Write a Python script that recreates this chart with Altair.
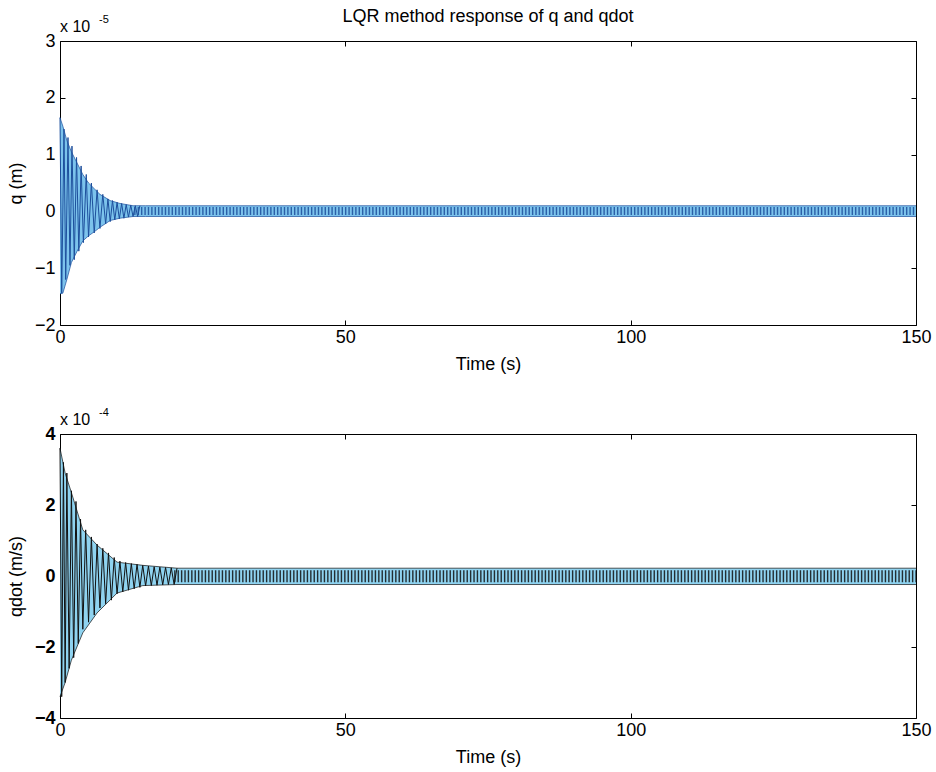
import altair as alt
import pandas as pd

# ---- q(t): displacement response, units of 1e-5 m ----
# envelope of the oscillation (upper / lower bound)
q_env_t = [0.0, 0.5, 1.2, 2.0, 3.0, 4.0, 5.0, 6.0, 7.0, 8.8, 10.5, 12.8, 15.0, 150.0]
q_upper = [1.65, 1.5, 1.25, 1.05, 0.85, 0.65, 0.5, 0.4, 0.3, 0.19, 0.14, 0.1, 0.1, 0.1]
q_lower = [-1.45, -1.44, -1.2, -0.9, -0.7, -0.52, -0.43, -0.36, -0.28, -0.16, -0.12, -0.09, -0.09, -0.09]
# successive peaks of the decaying transient
q_peak_t = [0.0, 0.3, 0.7, 1.0, 1.4, 1.75, 2.1, 2.5, 2.9, 3.3, 3.7, 4.1, 4.6, 5.0, 5.5,
            6.0, 6.5, 7.0, 7.5, 8.0, 8.4, 8.8, 9.2, 9.6, 10.0, 10.4, 10.8, 11.2, 11.6,
            12.0, 12.4, 12.8, 13.2, 13.6, 14.0]
q_peak_v = [1.65, -1.44, 1.45, -1.2, 1.3, -0.95, 1.15, -0.85, 0.95, -0.7, 0.8, -0.55, 0.65, -0.45, 0.5,
            -0.38, 0.38, -0.3, 0.3, -0.22, 0.22, -0.18, 0.19, -0.15, 0.16, -0.13, 0.14, -0.12, 0.12,
            -0.1, 0.11, -0.09, 0.1, -0.09, 0.1]
# steady residual oscillation band: start time, centre
q_steady = [13.0, 0.005]

# ---- qdot(t): velocity response, units of 1e-4 m/s ----
qd_env_t = [0.0, 0.9, 2.0, 4.0, 6.5, 10.0, 14.5, 20.5, 150.0]
qd_upper = [3.6, 2.9, 2.35, 1.3, 0.87, 0.39, 0.3, 0.22, 0.22]
qd_lower = [-3.4, -3.0, -2.37, -1.6, -1.04, -0.48, -0.27, -0.24, -0.24]
qd_peak_t = [0.0, 0.3, 0.6, 0.9, 1.2, 1.6, 2.0, 2.4, 2.8, 3.2, 3.6, 4.0, 4.5, 5.0, 5.5, 6.0, 6.5,
             7.0, 7.5, 8.0, 8.5, 9.0, 9.5, 10.0, 10.5, 11.0, 11.5, 12.0, 12.5, 13.0, 13.5,
             14.0, 14.5, 15.0, 15.5, 16.0, 16.5, 17.0, 17.5, 18.0, 18.5, 19.0, 19.5, 20.0, 20.5]
qd_peak_v = [3.6, -3.4, 3.2, -3.0, 2.9, -2.6, 2.4, -2.3, 2.1, -1.9, 1.6, -1.5, 1.3, -1.3, 1.1, -1.1, 0.9,
             -0.9, 0.78, -0.78, 0.65, -0.68, 0.52, -0.5, 0.42, -0.45, 0.38, -0.4, 0.35, -0.36, 0.33,
             -0.32, 0.3, -0.28, 0.28, -0.27, 0.26, -0.26, 0.25, -0.25, 0.24, -0.24, 0.23, -0.24, 0.22]
qd_steady = [20.0, -0.01]

x_ticks = [0, 50, 100, 150]
q_ticks = [-2, -1, 0, 1, 2, 3]
qd_ticks = [-4, -2, 0, 2, 4]

FONT = "Liberation Sans"
W, H = 856, 284
TICK = 5
FS = 18


def panel(env_t, up, lo, pk_t, pk_v, steady, ydom, yticks, ytitle, exponent,
          fill, line_color, stripe_px, label_weight="normal", title=None):
    env = pd.DataFrame({"t": env_t, "up": up, "lo": lo})
    pk = pd.DataFrame({"t": pk_t, "v": pk_v})
    st = pd.DataFrame({"t0": [steady[0]], "t1": [env_t[-1]], "c": [steady[1]]})
    xs = alt.Scale(domain=[0, 150], nice=False, zero=False)
    ys = alt.Scale(domain=ydom, nice=False, zero=False)

    base_axis = dict(grid=False, domain=False, tickColor="black", tickSize=TICK,
                     offset=-TICK)
    text_axis = dict(labelFont=FONT, titleFont=FONT, labelColor="black",
                     titleColor="black", labelFontSize=FS, titleFontSize=FS,
                     titleFontWeight="normal")

    x_bottom = alt.Axis(orient="bottom", values=x_ticks, title="Time (s)",
                        labelPadding=3, titlePadding=9, labelFlush=False,
                        **base_axis, **text_axis)
    y_left = alt.Axis(orient="left", values=yticks, title=ytitle, format="d",
                      labelPadding=5, titlePadding=9, labelFontWeight=label_weight,
                      **base_axis, **text_axis)
    x_top = alt.Axis(orient="top", values=x_ticks, labels=False, title=None, **base_axis)
    y_right = alt.Axis(orient="right", values=yticks, labels=False, title=None, **base_axis)

    band = alt.Chart(env).mark_area(color=fill, opacity=1).encode(
        x=alt.X("t:Q", scale=xs, axis=x_bottom),
        y=alt.Y("up:Q", scale=ys, axis=y_left),
        y2="lo:Q",
    )
    edges_hi = alt.Chart(env).mark_line(color=line_color, strokeWidth=1.0, opacity=0.7).encode(
        x=alt.X("t:Q", scale=xs, axis=x_top),
        y=alt.Y("up:Q", scale=ys, axis=y_right),
    )
    edges_lo = alt.Chart(env).mark_line(color=line_color, strokeWidth=1.0, opacity=0.7).encode(
        x=alt.X("t:Q", scale=xs, axis=None), y=alt.Y("lo:Q", scale=ys, axis=None))
    wave = alt.Chart(pk).mark_line(color=line_color, strokeWidth=1.0).encode(
        x=alt.X("t:Q", scale=xs, axis=None), y=alt.Y("v:Q", scale=ys, axis=None))
    # residual oscillation drawn as a striped stroke along the band centre
    stripes = alt.Chart(st).mark_rule(color=line_color, strokeWidth=stripe_px,
                                      strokeDash=[1.4, 2.0], opacity=0.85).encode(
        x=alt.X("t0:Q", scale=xs, axis=None), x2="t1:Q",
        y=alt.Y("c:Q", scale=ys, axis=None))

    txt = pd.DataFrame({"a": ["x 10"], "b": [exponent]})
    mant = alt.Chart(txt).mark_text(align="left", baseline="alphabetic", font=FONT,
                                    fontSize=16, color="black").encode(
        x=alt.value(0), y=alt.value(-9), text="a:N")
    expo = alt.Chart(txt).mark_text(align="left", baseline="alphabetic", font=FONT,
                                    fontSize=11, color="black").encode(
        x=alt.value(39), y=alt.value(-18), text="b:N")
    layers = [band, stripes, edges_hi, edges_lo, wave, mant, expo]
    if title:
        tt = pd.DataFrame({"s": [title]})
        layers.append(alt.Chart(tt).mark_text(align="center", baseline="alphabetic",
                                              font=FONT, fontSize=FS, color="black").encode(
            x=alt.value(W / 2), y=alt.value(-19), text="s:N"))
    return alt.layer(*layers).resolve_axis(x="independent", y="independent").properties(
        width=W, height=H)


top = panel(q_env_t, q_upper, q_lower, q_peak_t, q_peak_v, q_steady, [-2, 3], q_ticks,
            "q (m)", "-5", "#7cc3ec", "#1d4f9c", 8,
            title="LQR method response of q and qdot")
bottom = panel(qd_env_t, qd_upper, qd_lower, qd_peak_t, qd_peak_v, qd_steady, [-4, 4],
               qd_ticks, "qdot (m/s)", "-4", "#8fd3f0", "#111111", 12, label_weight="bold")

chart = alt.vconcat(top, bottom, spacing=32).properties(
    padding={"left": 6, "top": 7, "right": 0, "bottom": 0}, background="white"
).configure_view(stroke="black", strokeWidth=1)

chart.save("out.html", embed_options={"renderer": "svg", "actions": False})
